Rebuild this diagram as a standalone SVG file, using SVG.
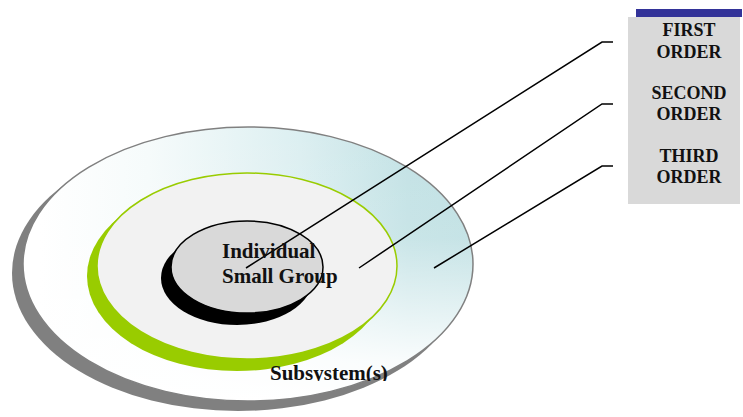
<svg xmlns="http://www.w3.org/2000/svg" width="743" height="417" viewBox="0 0 743 417">
<defs>
<linearGradient id="outerH" gradientUnits="userSpaceOnUse" x1="40" y1="0" x2="473" y2="0">
<stop offset="0" stop-color="#ffffff"/>
<stop offset="0.25" stop-color="#f6fbfb"/>
<stop offset="0.6" stop-color="#dcefF1"/>
<stop offset="0.85" stop-color="#c3e2e5"/>
<stop offset="1" stop-color="#bfe0e3"/>
</linearGradient>
<linearGradient id="outerV" gradientUnits="userSpaceOnUse" x1="0" y1="127" x2="0" y2="402">
<stop offset="0" stop-color="#ffffff" stop-opacity="0"/>
<stop offset="0.4" stop-color="#ffffff" stop-opacity="0.1"/>
<stop offset="0.85" stop-color="#ffffff" stop-opacity="0.9"/>
<stop offset="1" stop-color="#ffffff" stop-opacity="1"/>
</linearGradient>
<clipPath id="subClip"><rect x="0" y="0" width="743" height="381"/></clipPath>
</defs>
<style>
.lbl{font-family:"Liberation Serif","Times New Roman",serif;font-weight:bold;fill:#111;}
.leg{font-size:18px;text-anchor:middle;}
.big{font-size:21px;}
.conn{fill:none;stroke:#000;stroke-width:1.5;}
</style>
<g id="third-order-ring">
<ellipse cx="238" cy="273" rx="226" ry="138" fill="#808080"/>
<ellipse cx="248" cy="264" rx="225" ry="137" fill="url(#outerH)"/>
<ellipse cx="248" cy="264" rx="225" ry="137" fill="url(#outerV)" stroke="#808080" stroke-width="1.5"/>
</g>
<g id="second-order-ring">
<ellipse cx="237" cy="276" rx="150" ry="95" fill="#99cc00"/>
<ellipse cx="247" cy="266" rx="150" ry="93" fill="#f2f2f2" stroke="#99cc00" stroke-width="1.5"/>
</g>
<g id="first-order-core">
<ellipse cx="237" cy="278" rx="76" ry="47" fill="#000"/>
<ellipse cx="247" cy="267" rx="76" ry="46" fill="#d9d9d9" stroke="#000" stroke-width="1.5"/>
</g>
<g id="connectors">
<polyline class="conn" points="246,268 602,42 613,42"/>
<polyline class="conn" points="359,268 602,104 613,104"/>
<polyline class="conn" points="434,268 602,166 613,166"/>
</g>
<g id="legend">
<rect x="636" y="9" width="106" height="8" fill="#333399"/>
<rect x="628" y="17" width="112" height="187" fill="#d9d9d9"/>
<text class="lbl leg" x="689" y="36">FIRST</text>
<text class="lbl leg" x="689" y="58">ORDER</text>
<text class="lbl leg" x="689" y="99">SECOND</text>
<text class="lbl leg" x="689" y="120">ORDER</text>
<text class="lbl leg" x="689" y="162">THIRD</text>
<text class="lbl leg" x="689" y="183">ORDER</text>
</g>
<g id="labels">
<text class="lbl big" x="222" y="258">Individual</text>
<text class="lbl big" x="222" y="283">Small Group</text>
<text class="lbl big" x="270" y="380" clip-path="url(#subClip)">Subsystem(s)</text>
</g>
</svg>
